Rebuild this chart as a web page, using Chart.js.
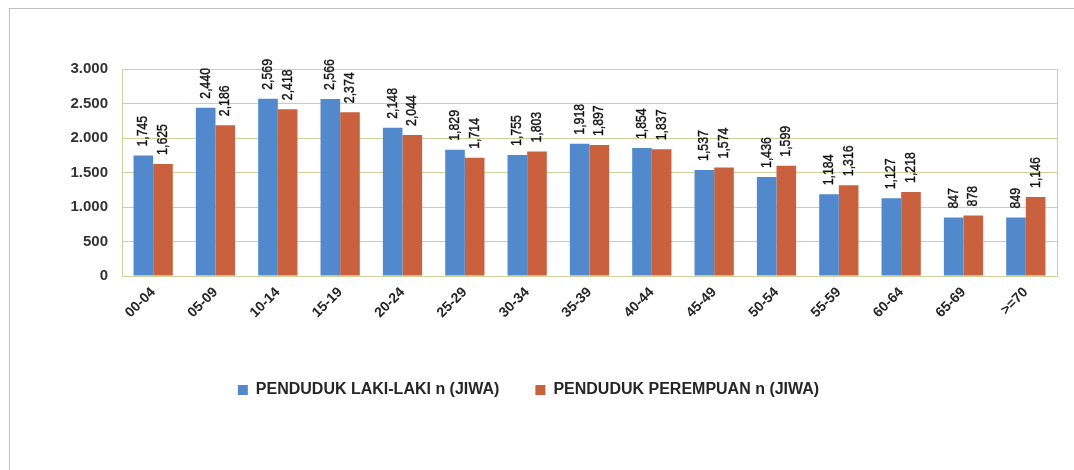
<!DOCTYPE html>
<html>
<head>
<meta charset="utf-8">
<script src="https://cdn.jsdelivr.net/npm/chart.js@4"></script>
<style>
  html, body { margin: 0; padding: 0; background: #fff; }
  #wrap { width: 1074px; height: 470px; }
</style>
</head>
<body>
<div id="wrap"><canvas id="pop-chart" width="1074" height="470"></canvas></div>
<script>
const ageGroups = ["00-04", "05-09", "10-14", "15-19", "20-24", "25-29", "30-34", "35-39", "40-44", "45-49", "50-54", "55-59", "60-64", "65-69", ">=70"];
const male = [1745, 2440, 2569, 2566, 2148, 1829, 1755, 1918, 1854, 1537, 1436, 1184, 1127, 847, 849];
const female = [1625, 2186, 2418, 2374, 2044, 1714, 1803, 1897, 1837, 1574, 1599, 1316, 1218, 878, 1146];
const yTicks = [0, 500, 1000, 1500, 2000, 2500, 3000];

const fmtComma = (v) => v.toLocaleString('en-US');
const fmtDot = (v) => v.toLocaleString('en-US').replace(/,/g, '.');

// outer frame + plot area border
const framePlugin = {
    id: 'frame',
    beforeDraw(chart) {
        const c = chart.ctx;
        c.save();
        c.strokeStyle = '#c4c4b8';
        c.lineWidth = 1;
        c.strokeRect(9.5, 8.5, 1080, 480);
        c.restore();
    },
    afterDatasetsDraw(chart) {
        const a = chart.chartArea;
        const c = chart.ctx;
        c.save();
        c.strokeStyle = '#cdd29c';
        c.lineWidth = 1;
        c.strokeRect(a.left + 0.5, a.top + 0.5, a.right - a.left, a.bottom - a.top);
        c.restore();
    }
};

// vertical value labels above each bar (squeezed to look like a narrow face)
const valueLabels = {
    id: 'valueLabels',
    afterDatasetsDraw(chart) {
        const c = chart.ctx;
        c.save();
        c.font = '15px "Liberation Sans", Arial, sans-serif';
        c.fillStyle = '#111111';
        c.strokeStyle = '#111111';
        c.lineWidth = 0.4;
        c.textAlign = 'left';
        c.textBaseline = 'middle';
        chart.data.datasets.forEach((ds, i) => {
            chart.getDatasetMeta(i).data.forEach((bar, j) => {
                c.save();
                c.translate(bar.x, bar.y - 9);
                c.rotate(-Math.PI / 2);
                c.scale(0.82, 1);
                c.fillText(fmtComma(ds.data[j]), 0, 0);
                c.strokeText(fmtComma(ds.data[j]), 0, 0);
                c.restore();
            });
        });
        c.restore();
    }
};

var chart = new Chart(document.getElementById('pop-chart'), {
    type: 'bar',
    data: {
        labels: ageGroups,
        datasets: [{
            label: 'PENDUDUK LAKI-LAKI n (JIWA)',
            data: male,
            backgroundColor: '#5189cc',
            categoryPercentage: 0.63,
            barPercentage: 1.0
        }, {
            label: 'PENDUDUK PEREMPUAN n (JIWA)',
            data: female,
            backgroundColor: '#c9613f',
            categoryPercentage: 0.63,
            barPercentage: 1.0
        }]
    },
    options: {
        responsive: false,
        animation: false,
        layout: {
            padding: { left: 0, right: 17, top: 69, bottom: 62 }
        },
        plugins: {
            legend: {
                position: 'bottom',
                labels: {
                    boxWidth: 10,
                    boxHeight: 10,
                    padding: 36,
                    color: '#262626',
                    font: { family: '"Liberation Sans", Arial, sans-serif', size: 16, weight: 'bold' }
                }
            },
            tooltip: { enabled: false }
        },
        scales: {
            x: {
                grid: { display: false },
                border: { display: false },
                ticks: {
                    maxRotation: 45,
                    minRotation: 45,
                    padding: 0,
                    color: '#262626',
                    font: { family: '"Liberation Sans", Arial, sans-serif', size: 14, weight: 'bold' }
                },
                afterFit: (scale) => { scale.height = 70; }
            },
            y: {
                min: 0,
                max: 3000,
                afterBuildTicks: (scale) => { scale.ticks = yTicks.map(v => ({ value: v })); },
                grid: { color: '#cdd29c', drawTicks: false },
                border: { display: false },
                ticks: {
                    padding: 14,
                    color: '#333333',
                    font: { family: '"Liberation Sans", Arial, sans-serif', size: 15, weight: 'bold' },
                    callback: (v) => fmtDot(v)
                },
                afterFit: (scale) => { scale.width = 122; }
            }
        }
    },
    plugins: [framePlugin, valueLabels]
});
</script>
</body>
</html>
